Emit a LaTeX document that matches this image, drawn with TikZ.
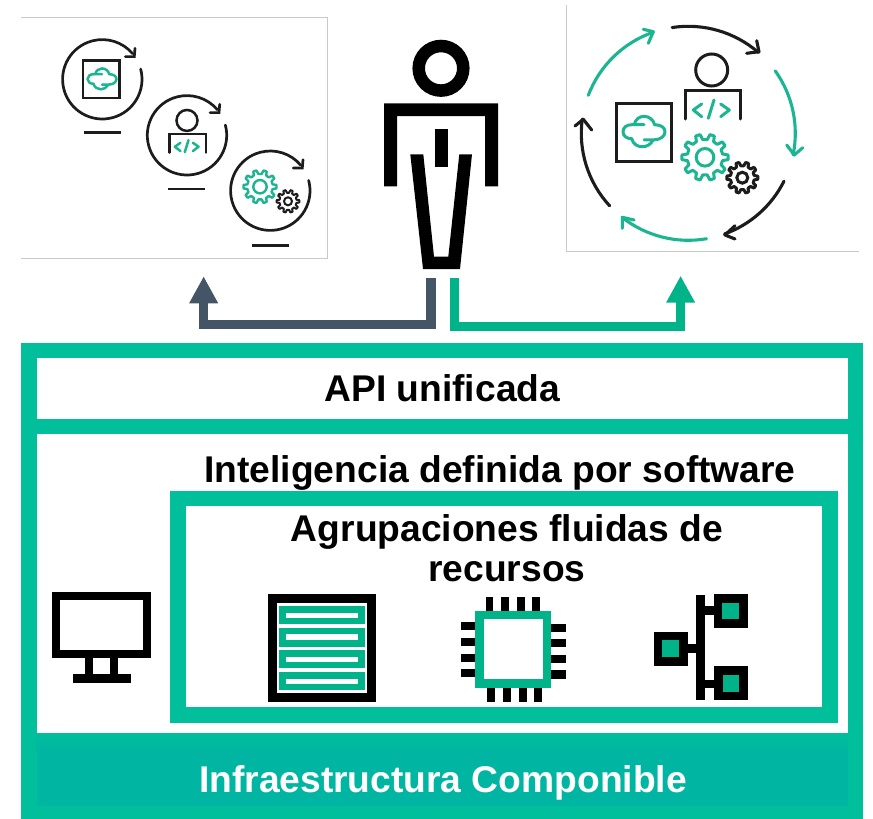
\documentclass[tikz,border=0pt]{standalone}
\usepackage{fontspec}
\setmainfont{Liberation Sans}
\usetikzlibrary{arrows.meta}
\definecolor{frameg}{HTML}{00BF9A}
\definecolor{bandg}{HTML}{00B6A2}
\definecolor{hpeg}{HTML}{00B388}
\definecolor{icong}{HTML}{1CB592}
\definecolor{slate}{HTML}{445665}
\definecolor{ink}{HTML}{1C1C1C}
\definecolor{edge}{HTML}{C9C9C9}
\tikzset{
  label text/.style={font=\bfseries\fontsize{37.2}{37.2}\selectfont,anchor=base,inner sep=0pt,text=black},
  panel edge/.style={draw=edge,line width=1pt},
  icon line/.style={draw=ink,line cap=round,line join=miter},
  green line/.style={draw=icong,line cap=round,line join=round},
  flow/.style={line width=9.3pt,line join=miter,-{Triangle[length=27pt,width=27pt]}},
}
\newcommand\cloudicon[4]{%
  \begin{scope}[shift={(#1,#2)},x=#3pt,y=-#3pt]
    \draw[green line,line width=#4pt] (0,-20) -- (-35,-20) .. controls (-50,-20) and (-60,-12) .. (-60,0) .. controls (-60,12) and (-50,20) .. (-35,20) .. controls (-32,35) and (-18,43) .. (-5,43) .. controls (8,43) and (20,36) .. (25,25);
    \draw[green line,line width=#4pt] (-28,-20) .. controls (-25,-35) and (-13,-44) .. (0,-44) .. controls (15,-44) and (28,-33) .. (30,-20) .. controls (48,-20) and (60,-12) .. (60,0) .. controls (60,12) and (48,23) .. (30,23) -- (0,23);
  \end{scope}}
\newcommand\devicon[4]{%
  \begin{scope}[shift={(#1,#2)},x=#3pt,y=-#3pt]
    \draw[icon line,line width=#4pt] (0,-40) circle[radius=16];
    \draw[icon line,line width=#4pt] (-26.7,9) -- (-26.7,-19.3) -- (28.6,-19.3) -- (28.6,9);
    \draw[green line,line width=#4pt] (-10,-6) -- (-18.4,0) -- (-10,6.7);
    \draw[green line,line width=#4pt] (2.3,-10) -- (-3.4,8.3);
    \draw[green line,line width=#4pt] (9,-6) -- (17.6,0) -- (9,6.7);
  \end{scope}}
\newcommand\gearicon[8]{%
  \begin{scope}[shift={(#1,#2)}]
    \draw[draw=#7,line width=#8pt,line join=round]
      ({-0.30*360/#6}:#4) \foreach \i in {1,...,#6}{
        -- ({(\i-1-0.16)*360/#6}:#3) -- ({(\i-1+0.16)*360/#6}:#3)
        -- ({(\i-1+0.30)*360/#6}:#4) -- ({(\i-0.30)*360/#6}:#4)
      } -- cycle;
    \draw[draw=#7,line width=#8pt] (0,0) circle[radius=#5];
  \end{scope}}
\newcommand\cycleicon[2]{%
  \begin{scope}[shift={(#1,#2)}]
    \draw[icon line,line width=2.7pt] (-15:39.7) arc[start angle=-15,end angle=320,radius=39.7];
    \draw[icon line,line width=2.7pt] (32.7,-31) -- (32,-22.7) -- (23,-22.7);
  \end{scope}}
\newcommand\ringarc[3]{\draw[#3,line width=3.1pt] (#1:107) arc[start angle=#1,end angle=#2,radius=107];}
\begin{document}
\begin{tikzpicture}[x=1pt,y=-1pt]
\useasboundingbox (0,0) rectangle (873,819);
\fill[white] (0,0) rectangle (873,819);

% left panel
\draw[panel edge] (21,17.3) -- (327,17.3) -- (327,258) -- (21,258);
\cycleicon{102.3}{79.3}
\cycleicon{187}{135.3}
\cycleicon{270.3}{190.7}
\draw[icon line,line width=2.7pt,line cap=butt] (84,132.3) -- (121,132.3);
\draw[icon line,line width=2.7pt,line cap=butt] (168.3,189) -- (205,189);
\draw[icon line,line width=2.7pt,line cap=butt] (251.7,245.7) -- (288.7,245.7);
\draw[icon line,line width=2.6pt] (83,60.3) rectangle (119.7,98);
\cloudicon{102}{79}{.24}{2.5}
\devicon{187}{146.7}{.656}{2.5}
\gearicon{260}{186.7}{16.6}{12.8}{6.7}{10}{icong}{2.4}
\gearicon{288}{201.3}{11.4}{8.6}{4}{10}{ink}{2}

% right panel
\draw[panel edge] (566.3,5) -- (566.3,251.3) -- (859.3,251.3);
\begin{scope}[shift={(688.3,133.3)}]
  \ringarc{200.8}{251}{green line}
  \ringarc{261.3}{310.9}{icon line}
  \ringarc{324.3}{371.6}{green line}
  \ringarc{26.6}{70.2}{icon line}
  \ringarc{80.2}{128.2}{green line}
  \ringarc{137.3}{187.6}{icon line}
\end{scope}
\draw[green line,line width=3.1pt] (643.3,29.3) -- (653.3,31.7) -- (648.3,43.3);
\draw[icon line,line width=3.1pt,line join=round] (756.7,40.7) -- (759,51.7) -- (746.7,53.3);
\draw[green line,line width=3.1pt] (786.7,145) -- (794.3,155) -- (802.7,147.7);
\draw[icon line,line width=3.1pt,line join=round] (735,225.7) -- (725,235) -- (735,239);
\draw[green line,line width=3.1pt] (622.3,228.3) -- (622.3,217.3) -- (634,220);
\draw[icon line,line width=3.1pt,line join=round] (575,126) -- (583.3,119.3) -- (591.7,130);
\draw[icon line,line width=3pt] (616.3,103.6) rectangle (671.4,161.4);
\cloudicon{644}{131.7}{.35}{3}
\devicon{711.7}{110}{1}{3}
\gearicon{705}{157.3}{23.2}{17.8}{8.8}{10}{icong}{3}
\gearicon{742.3}{177.7}{15.6}{12}{5.5}{10}{ink}{3}

% person
\draw[black,line width=12.5pt] (441,68.3) circle[radius=22.3];
\fill[black] (384,186.3) -- (384,103.3) -- (498,103.3) -- (498,186.3) -- (485,186.3) -- (485,116) -- (397,116) -- (397,186.3) -- cycle;
\fill[black] (434.7,129) rectangle (447.7,167.3);
\fill[black] (410.3,154.3) -- (423.3,154.3) -- (434,256.7) -- (448.3,256.7) -- (459.3,154.3) -- (472,154.3) -- (460,269) -- (423,269) -- cycle;

% flow arrows
\coordinate (personL) at (431,278.3);
\coordinate (personR) at (454.2,278.3);
\coordinate (cornerL) at (431,324.65);
\coordinate (cornerLL) at (203.65,324.65);
\coordinate (panelL) at (203.65,276.3);
\coordinate (cornerR) at (454.2,326.8);
\coordinate (cornerRR) at (680.6,326.8);
\coordinate (panelR) at (680.6,275.7);
\draw[flow,draw=slate] (personL) -- (cornerL) -- (cornerLL) -- (panelL);
\draw[flow,draw=hpeg] (personR) -- (cornerR) -- (cornerRR) -- (panelR);

% main frame
\fill[frameg] (21,343) rectangle (863,819);
\fill[white] (36.5,358) rectangle (847.5,419);
\fill[white] (36.5,434) rectangle (847.5,733);
\shade[top color=frameg,bottom color=bandg] (36.5,733) rectangle (847.5,750);
\fill[bandg] (36.5,750) rectangle (847.5,806);
\fill[frameg] (170,490.5) rectangle (838,723);
\fill[white] (186,506) rectangle (822,707);

\node[label text] (api) at (442.3,401.7) {API unificada};
\node[label text] (intel) at (500,482.7) {Inteligencia definida por software};
\node[label text] (agr) at (507,541.7) {Agrupaciones fluidas de};
\node[label text] (rec) at (507,581.7) {recursos};
\node[label text,text=white] (infra) at (443,792.7) {Infraestructura Componible};

% monitor
\fill[black] (52,592) rectangle (150.7,658);
\fill[white] (60,600) rectangle (143,650);
\fill[black] (85,658) rectangle (118,675);
\fill[white] (93,658) rectangle (110,674);
\fill[black] (72.5,674) rectangle (130.5,683);

% server
\fill[black] (268,594) rectangle (376,702);
\fill[white] (277,603) rectangle (367,693);
\foreach \a/\b/\c/\d in {606/624/612.7/618.3,628/646.5/634.3/640.3,650/668/656.7/662,672/690/678.7/684.3}{
  \fill[hpeg] (279.3,\a) rectangle (364.7,\b);
  \fill[white] (285.7,\c) rectangle (358,\d);
}

% chip
\foreach \a/\b in {485.7/493.3,501/509,516.7/524.7,532.3/540}{\fill[black] (\a,597) rectangle (\b,611);}
\foreach \a/\b in {487.3/495.3,503/511,518.7/526.7,534.3/542.3}{\fill[black] (\a,687.7) rectangle (\b,702.3);}
\foreach \a/\b in {622.3/630.3,638/646,653.7/661.7,669/677}{\fill[black] (461,\a) rectangle (475.3,\b);}
\foreach \a/\b in {623.7/632,639/647.3,654.7/663,670.3/678.7}{\fill[black] (551.3,\a) rectangle (565.7,\b);}
\fill[hpeg] (475.3,611) rectangle (551.3,687.7);
\fill[white] (483.7,619.3) rectangle (543,679.3);

% network
\fill[black] (696.3,595) rectangle (705.3,699.7);
\fill[black] (687.7,644.3) rectangle (696.3,653);
\fill[black] (705.3,606.3) rectangle (714,615);
\fill[black] (705.3,679.7) rectangle (714,688.3);
\fill[black] (713.7,594) rectangle (748,627.7);
\fill[hpeg] (722.3,602.7) rectangle (739.3,619.3);
\fill[black] (654,631.7) rectangle (687.7,665.7);
\fill[hpeg] (662.3,640.3) rectangle (679.3,657.3);
\fill[black] (714,666.3) rectangle (748,700.3);
\fill[hpeg] (722.7,675) rectangle (739.3,692);
\end{tikzpicture}
\end{document}
